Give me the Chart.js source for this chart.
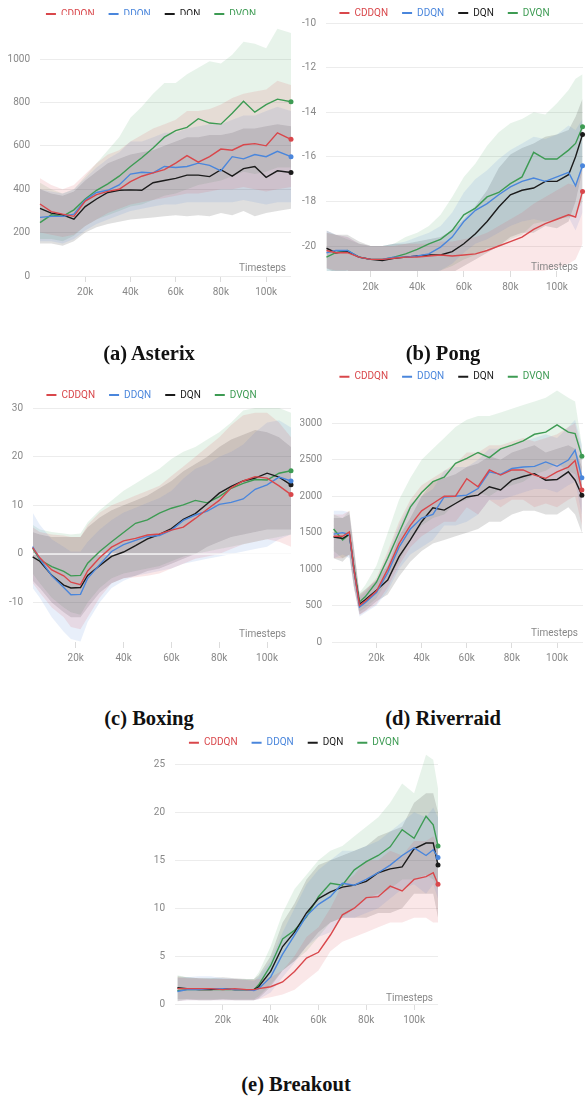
<!DOCTYPE html>
<html>
<head>
<meta charset="utf-8">
<script src="https://cdn.jsdelivr.net/npm/chart.js@4.4.1/dist/chart.umd.min.js"></script>
<style>
  body { margin: 0; background: #fff; width: 587px; height: 1097px; position: relative; overflow: hidden; }
  canvas { position: absolute; }
  .cap { position: absolute; font-family: 'Liberation Serif', serif; font-weight: bold; font-size: 20.5px;
         line-height: 22px; color: #111; transform: translateX(-50%); white-space: nowrap; }
</style>
</head>
<body>
<canvas id="asterix" width="295" height="300" style="left:0;top:0"></canvas>
<canvas id="pong" width="294" height="300" style="left:293px;top:0"></canvas>
<canvas id="boxing" width="295" height="320" style="left:0;top:360px"></canvas>
<canvas id="riverraid" width="294" height="320" style="left:293px;top:360px"></canvas>
<canvas id="breakout" width="310" height="300" style="left:140px;top:730px"></canvas>

<div class="cap" style="left:149px;top:342px">(a) Asterix</div>
<div class="cap" style="left:443px;top:342px">(b) Pong</div>
<div class="cap" style="left:149px;top:707px">(c) Boxing</div>
<div class="cap" style="left:443px;top:707px">(d) Riverraid</div>
<div class="cap" style="left:296px;top:1073px">(e) Breakout</div>

<script>
// --- Series names and x ticks (thousands of timesteps) ---
const seriesNames = ['CDDQN', 'DDQN', 'DQN', 'DVQN'];
const xTicks = [20, 40, 60, 80, 100];

// --- (a) Asterix ---
const asterixSteps = [0, 5, 10, 15, 20, 25, 30, 35, 40, 45, 50, 55, 60, 65, 70, 75, 80, 85, 90, 95, 100, 105, 111];
const asterixYTicks = [0, 200, 400, 600, 800, 1000];
const asterixCDDQN = [332, 297, 285, 275, 345, 375, 390, 400, 435, 460, 475, 490, 520, 555, 525, 550, 585, 580, 605, 610, 600, 660, 630];
const asterixDDQN = [270, 275, 275, 285, 350, 385, 395, 420, 470, 478, 475, 505, 500, 505, 520, 510, 485, 550, 540, 560, 550, 575, 550];
const asterixDQN = [312, 290, 282, 262, 320, 355, 385, 395, 397, 395, 430, 440, 450, 465, 465, 458, 490, 460, 495, 505, 455, 485, 477];
const asterixDVQN = [246, 282, 275, 305, 355, 395, 425, 460, 505, 545, 590, 640, 670, 685, 725, 705, 700, 750, 805, 755, 790, 815, 803];
const asterixCDDQNHi = [450, 420, 400, 420, 470, 520, 560, 580, 620, 650, 680, 700, 720, 760, 760, 770, 790, 820, 840, 850, 860, 900, 880];
const asterixCDDQNLo = [200, 190, 180, 190, 230, 260, 290, 310, 330, 340, 350, 360, 370, 380, 380, 390, 400, 400, 410, 400, 390, 400, 410];
const asterixDDQNHi = [400, 390, 380, 400, 450, 500, 540, 570, 620, 620, 640, 660, 660, 680, 690, 700, 700, 720, 740, 740, 760, 780, 760];
const asterixDDQNLo = [160, 160, 150, 170, 210, 240, 260, 280, 300, 310, 320, 330, 330, 340, 340, 340, 340, 340, 350, 340, 330, 340, 340];
const asterixDQNHi = [400, 380, 370, 390, 440, 480, 520, 540, 560, 570, 580, 600, 620, 640, 640, 650, 650, 660, 680, 680, 690, 700, 690];
const asterixDQNLo = [150, 150, 140, 160, 200, 225, 240, 250, 260, 265, 270, 275, 280, 275, 280, 275, 290, 280, 300, 275, 290, 300, 310];
const asterixDVQNHi = [430, 400, 380, 400, 460, 520, 580, 640, 730, 780, 840, 890, 890, 930, 960, 990, 980, 1020, 1080, 1070, 1050, 1140, 1120];
const asterixDVQNLo = [170, 170, 160, 185, 230, 260, 280, 300, 320, 330, 350, 370, 380, 400, 420, 430, 440, 460, 480, 470, 480, 500, 500];

// --- (b) Pong ---
const pongSteps = [1, 5, 10, 15, 20, 25, 30, 35, 40, 45, 50, 55, 60, 65, 70, 75, 80, 85, 90, 95, 100, 105, 108, 111];
const pongYTicks = [-20, -18, -16, -14, -12, -10];
const pongCDDQN = [-20.2, -20.3, -20.3, -20.5, -20.6, -20.6, -20.55, -20.5, -20.5, -20.45, -20.4, -20.45, -20.4, -20.35, -20.2, -20.0, -19.8, -19.6, -19.25, -19.0, -18.8, -18.6, -18.7, -17.55];
const pongDDQN = [-20.3, -20.2, -20.2, -20.5, -20.6, -20.6, -20.5, -20.5, -20.45, -20.35, -20.05, -19.6, -18.9, -18.4, -18.1, -17.7, -17.35, -17.1, -16.95, -17.1, -16.9, -16.7, -17.3, -16.4];
const pongDQN = [-20.1, -20.3, -20.25, -20.5, -20.6, -20.65, -20.55, -20.5, -20.45, -20.4, -20.4, -20.25, -19.9, -19.45, -18.9, -18.25, -17.7, -17.5, -17.4, -17.1, -17.1, -16.8, -16.0, -15.0];
const pongDVQN = [-20.5, -20.3, -20.2, -20.5, -20.6, -20.6, -20.5, -20.35, -20.15, -19.9, -19.7, -19.3, -18.6, -18.3, -17.8, -17.6, -17.2, -16.9, -15.8, -16.1, -16.1, -15.7, -15.4, -14.65];
const pongCDDQNHi = [-19.4, -19.5, -19.6, -19.9, -20.0, -20.0, -20.0, -19.9, -19.9, -19.9, -19.8, -19.8, -19.7, -19.6, -19.4, -19.1, -18.8, -18.5, -18.1, -17.8, -17.5, -17.2, -17.3, -16.3];
const pongCDDQNLo = [-21.0, -21.1, -21.1, -21.3, -21.4, -21.4, -21.4, -21.4, -21.4, -21.4, -21.4, -21.4, -21.4, -21.4, -21.4, -21.4, -21.4, -21.4, -21.3, -21.1, -21.0, -20.8, -20.6, -19.9];
const pongDDQNHi = [-19.3, -19.5, -19.6, -19.9, -20.0, -20.0, -19.9, -19.8, -19.6, -19.4, -19.1, -18.5, -17.6, -17.0, -16.6, -16.1, -15.7, -15.4, -15.1, -15.2, -15.0, -14.6, -14.8, -14.3];
const pongDDQNLo = [-21.3, -21.2, -21.2, -21.3, -21.3, -21.3, -21.3, -21.3, -21.3, -21.2, -21.1, -20.8, -20.3, -19.9, -19.7, -19.4, -19.1, -18.9, -18.8, -18.9, -18.8, -18.7, -19.3, -18.5];
const pongDQNHi = [-19.3, -19.5, -19.5, -19.8, -20.0, -20.0, -19.9, -19.9, -19.8, -19.7, -19.6, -19.3, -18.8, -18.2, -17.5, -16.5, -15.9, -15.6, -15.4, -15.1, -15.0, -14.8, -14.2, -13.4];
const pongDQNLo = [-21.0, -21.2, -21.1, -21.3, -21.3, -21.3, -21.3, -21.3, -21.3, -21.3, -21.3, -21.2, -20.9, -20.6, -20.3, -20.0, -19.6, -19.4, -19.4, -19.1, -19.2, -18.9, -18.0, -16.6];
const pongDVQNHi = [-19.4, -19.5, -19.7, -19.9, -20.0, -20.0, -19.9, -19.6, -19.4, -19.1, -18.6, -17.8, -16.9, -16.3, -15.5, -14.9, -14.5, -14.3, -14.0, -14.1, -13.6, -13.0, -12.5, -12.3];
const pongDVQNLo = [-21.5, -21.4, -21.3, -21.3, -21.3, -21.3, -21.3, -21.3, -21.3, -21.2, -21.1, -20.9, -20.6, -20.4, -20.1, -20.0, -19.7, -19.5, -19.0, -18.9, -18.8, -18.7, -18.6, -18.0];

// --- (c) Boxing ---
const boxingSteps = [2, 5, 10, 15, 18, 22, 25, 30, 35, 40, 45, 50, 55, 60, 65, 70, 75, 80, 85, 90, 95, 100, 105, 110];
const boxingYTicks = [-10, 0, 10, 20, 30];
const boxingCDDQN = [1.3, -0.8, -3.3, -4.5, -5.8, -6.3, -3.5, -0.8, 1.4, 2.7, 3.2, 3.9, 4.1, 4.9, 5.5, 7.3, 9.2, 11.0, 13.6, 15.0, 15.9, 15.6, 14.0, 12.2];
const boxingDDQN = [1.5, -1.0, -4.5, -6.9, -8.4, -8.3, -5.0, -2.2, 0.5, 1.9, 2.8, 3.6, 3.8, 4.9, 6.9, 8.0, 8.8, 10.2, 10.6, 11.3, 13.3, 14.2, 15.8, 15.0];
const boxingDQN = [-0.6, -1.5, -4.4, -6.4, -7.0, -6.9, -4.4, -2.4, -0.5, 0.4, 1.7, 3.1, 4.0, 5.2, 7.1, 8.3, 10.3, 12.5, 13.9, 15.0, 15.6, 16.6, 15.8, 14.2];
const boxingDVQN = [1.2, -1.2, -2.6, -3.6, -4.5, -4.4, -1.9, 0.5, 2.5, 4.4, 6.3, 7.0, 8.4, 9.4, 10.1, 11.0, 10.5, 11.8, 13.5, 14.5, 15.3, 15.2, 16.6, 17.1];
const boxingCDDQNHi = [5.5, 4.5, 4, 3.8, 3.5, 3.5, 6, 8.5, 10, 11, 12, 13, 14, 16, 18, 20, 22, 24, 26.5, 28.5, 29, 29, 27, 24];
const boxingCDDQNLo = [-6, -8, -11, -13, -15, -15.5, -13, -9, -6, -5, -4.8, -4.5, -4, -3, -2, -1, -0.5, 0, 1, 2, 2.5, 3, 2.5, 1.5];
const boxingDDQNHi = [8.5, 6, 3, 1.5, 0.5, 0.5, 2.5, 5, 7, 8.5, 9.5, 10.5, 11.5, 13, 15.5, 17.5, 18.5, 20, 21, 22.5, 25, 27, 27.5, 26];
const boxingDDQNLo = [-7, -9, -13, -16, -17.5, -18, -14, -10, -7, -5.5, -4.5, -4, -3.5, -3, -2, -1.5, -1, -0.5, 0, 0.5, 1, 1.5, 3, 4];
const boxingDQNHi = [4.5, 4, 3.5, 3.5, 3.5, 3.5, 5.5, 7.5, 9, 10, 11, 12, 13.5, 15, 17, 18.5, 20, 22, 23.5, 24.5, 25.5, 25, 24, 22];
const boxingDQNLo = [-5.5, -7, -10, -12, -13, -13, -11, -8, -6, -5, -4.5, -3.5, -3, -2, -1, 0, 1.5, 2.5, 3.5, 4, 4.5, 5, 5, 5];
const boxingDVQNHi = [6, 5, 4.5, 4.2, 4, 4.2, 6.5, 9, 11, 13, 14.5, 16, 17.5, 19.5, 21, 22, 23.5, 25, 27, 29.5, 30, 30.5, 30, 29];
const boxingDVQNLo = [-4, -6, -9, -11, -12, -12.5, -10, -7, -5, -4, -3.5, -3, -2.5, -1.5, -0.5, 0, 0.5, 1, 1.5, 2, 2.5, 3, 3.5, 4];

// --- (d) Riverraid ---
const riverSteps = [1, 5, 8, 10, 12.5, 15, 20, 25, 30, 35, 40, 45, 50, 55, 60, 65, 70, 75, 80, 85, 90, 95, 100, 105, 108, 111];
const riverYTicks = [0, 500, 1000, 1500, 2000, 2500, 3000];
const riverCDDQN = [1450, 1450, 1510, 1000, 500, 560, 700, 1000, 1350, 1600, 1800, 1900, 2000, 2000, 2240, 2130, 2360, 2290, 2360, 2360, 2290, 2245, 2335, 2400, 2490, 2085];
const riverDDQN = [1480, 1500, 1470, 1000, 480, 540, 680, 950, 1300, 1550, 1700, 1750, 1990, 2000, 2015, 2106, 2335, 2300, 2380, 2400, 2410, 2470, 2410, 2496, 2633, 2253];
const riverDQN = [1440, 1420, 1480, 1000, 520, 580, 710, 850, 1170, 1400, 1650, 1840, 1810, 1900, 1990, 2015, 2130, 2085, 2220, 2270, 2310, 2220, 2230, 2335, 2220, 2015];
const riverDVQN = [1550, 1400, 1480, 1030, 550, 620, 820, 1150, 1500, 1850, 2050, 2200, 2260, 2450, 2520, 2600, 2530, 2650, 2700, 2760, 2850, 2880, 2980, 2880, 2860, 2550];
const riverCDDQNHi = [1750, 1750, 1800, 1300, 640, 700, 880, 1250, 1650, 1950, 2150, 2250, 2350, 2450, 2600, 2600, 2700, 2700, 2750, 2800, 2750, 2800, 2850, 2950, 3000, 2600];
const riverCDDQNLo = [1150, 1150, 1200, 750, 370, 420, 520, 750, 1050, 1300, 1450, 1550, 1650, 1650, 1850, 1750, 1950, 1850, 1950, 1950, 1850, 1900, 1850, 1950, 2000, 1600];
const riverDDQNHi = [1800, 1800, 1780, 1300, 620, 680, 850, 1200, 1600, 1900, 2000, 2100, 2350, 2400, 2400, 2500, 2650, 2650, 2700, 2750, 2800, 2850, 2800, 2950, 3050, 2700];
const riverDDQNLo = [1150, 1200, 1150, 750, 350, 400, 500, 700, 1000, 1200, 1300, 1400, 1600, 1600, 1650, 1750, 1950, 1950, 2000, 2050, 2100, 2100, 2050, 2150, 2200, 1750];
const riverDQNHi = [1700, 1700, 1750, 1250, 660, 720, 850, 1050, 1450, 1700, 2000, 2200, 2250, 2300, 2400, 2450, 2550, 2500, 2600, 2650, 2700, 2600, 2650, 2700, 2650, 2400];
const riverDQNLo = [1150, 1100, 1200, 750, 380, 430, 560, 650, 900, 1100, 1250, 1350, 1400, 1450, 1500, 1550, 1650, 1650, 1750, 1800, 1800, 1750, 1750, 1850, 1750, 1500];
const riverDVQNHi = [1750, 1700, 1800, 1300, 680, 780, 1050, 1500, 1950, 2250, 2500, 2650, 2800, 2950, 3050, 3100, 3100, 3150, 3200, 3250, 3300, 3350, 3450, 3350, 3300, 2700];
const riverDVQNLo = [1250, 1150, 1200, 800, 420, 470, 600, 850, 1100, 1400, 1600, 1700, 1750, 1900, 1950, 2050, 2000, 2100, 2150, 2200, 2300, 2350, 2450, 2350, 2300, 2050];

// --- (e) Breakout ---
const breakSteps = [1, 5, 10, 15, 20, 25, 30, 33, 35, 40, 45, 50, 55, 60, 65, 70, 75, 80, 85, 90, 95, 100, 105, 108, 110];
const breakYTicks = [0, 5, 10, 15, 20, 25];
const breakCDDQN = [1.6, 1.6, 1.6, 1.6, 1.5, 1.6, 1.5, 1.5, 1.6, 1.8, 2.3, 3.4, 4.8, 5.4, 7.2, 9.3, 10.0, 11.1, 11.2, 12.3, 11.8, 13.0, 13.3, 13.7, 12.5];
const breakDDQN = [1.3, 1.5, 1.5, 1.6, 1.6, 1.5, 1.5, 1.4, 1.6, 2.8, 5.2, 7.2, 9.2, 10.4, 11.2, 12.6, 12.4, 13.0, 13.7, 14.5, 15.5, 16.3, 15.5, 16.1, 15.3];
const breakDQN = [1.7, 1.6, 1.5, 1.5, 1.6, 1.5, 1.5, 1.5, 1.8, 3.4, 6.0, 7.5, 9.5, 11.0, 11.7, 12.2, 12.4, 12.8, 13.7, 14.1, 14.3, 16.2, 16.8, 16.8, 14.5];
const breakDVQN = [1.4, 1.5, 1.5, 1.5, 1.5, 1.5, 1.5, 1.5, 2.0, 4.0, 6.8, 7.7, 9.1, 11.2, 12.6, 12.4, 14.0, 14.85, 15.5, 16.4, 18.2, 17.3, 19.6, 18.7, 16.5];
const breakCDDQNHi = [2.8, 2.7, 2.7, 2.6, 2.6, 2.6, 2.5, 2.5, 2.6, 2.8, 3.5, 5, 7, 8, 10, 12.5, 13.5, 15, 15, 16, 15.5, 17, 17, 17.5, 16.5];
const breakCDDQNLo = [0.3, 0.4, 0.4, 0.4, 0.4, 0.4, 0.4, 0.4, 0.5, 0.7, 1, 1.5, 2.5, 3.5, 5.5, 6.5, 7, 7.5, 8, 8.5, 8.5, 9, 9, 8.5, 8.5];
const breakDDQNHi = [2.7, 2.8, 2.9, 2.9, 2.7, 2.6, 2.5, 2.4, 2.8, 4.5, 7.5, 10, 12.5, 14, 15, 16, 16, 16.5, 17, 18, 19, 20, 19.5, 20.5, 19.5];
const breakDDQNLo = [0.3, 0.4, 0.4, 0.4, 0.4, 0.4, 0.4, 0.4, 0.5, 1.2, 2.8, 4.3, 6, 7, 7.5, 9, 9, 9.5, 10, 11, 12, 12.5, 11.5, 12.5, 11];
const breakDQNHi = [2.9, 2.8, 2.7, 2.7, 2.8, 2.7, 2.6, 2.6, 3, 5, 8.5, 10.5, 13, 14.5, 15, 15.5, 16, 16.5, 17.5, 18, 18.5, 21, 22, 22, 20];
const breakDQNLo = [0.5, 0.5, 0.4, 0.4, 0.5, 0.4, 0.4, 0.4, 0.6, 1.8, 3.5, 4.5, 6, 7.5, 8.5, 9, 9, 9, 9.5, 9.5, 10, 11.5, 11.5, 11.5, 9];
const breakDVQNHi = [3, 2.8, 2.7, 2.7, 2.6, 2.6, 2.6, 2.6, 3.3, 6, 9.5, 12, 13.5, 15, 16, 16.5, 17.5, 18.5, 19.5, 21, 23, 22, 26, 25.5, 22.5];
const breakDVQNLo = [0.3, 0.5, 0.5, 0.5, 0.5, 0.5, 0.5, 0.5, 0.8, 2, 3.5, 4.5, 5.5, 7, 8.5, 9, 10, 11, 11.5, 12, 13, 13, 13.5, 13, 12];

// --- Styles ---
const lineColors = { CDDQN: '#d9474b', DDQN: '#4a86dc', DQN: '#1b1b1b', DVQN: '#3d9b53' };
const bandColors = {
    CDDQN: 'rgba(217,71,75,0.13)',
    DDQN: 'rgba(74,134,220,0.13)',
    DQN: 'rgba(30,30,30,0.14)',
    DVQN: 'rgba(61,155,83,0.12)'
};

Chart.defaults.font.family = 'Roboto, "Noto Sans", sans-serif';
Chart.defaults.font.size = 10;

// legend: fixed box height, text row placed at a given y and nudged right
const legendPlacer = {
    id: 'legendPlacer',
    afterInit(chart, args, opts) {
        const lg = chart.legend;
        const fit = lg.fit;
        lg.fit = function () { fit.call(this); this.height = opts.height; };
    },
    afterLayout(chart, args, opts) {
        const lg = chart.legend;
        const dy = opts.center - 14 - 5 - lg.top;
        lg.top += dy;
        lg.bottom += dy;
        lg.left += 5;
        lg.right += 5;
    }
};

// white zero line over the bands, and the "Timesteps" tag inside the plot
const extras = {
    id: 'extras',
    afterDatasetDraw(chart, args, opts) {
        if (!chart.data.datasets[args.index].zeroLine) return;
        const y = chart.scales.y;
        if (y.min >= 0 || y.max <= 0) return;
        const py = y.getPixelForValue(0);
        const ctx = chart.ctx;
        ctx.save();
        ctx.strokeStyle = 'rgba(255,255,255,0.9)';
        ctx.lineWidth = 1.5;
        ctx.beginPath();
        ctx.moveTo(chart.chartArea.left, py);
        ctx.lineTo(chart.chartArea.right, py);
        ctx.stroke();
        ctx.restore();
    },
    afterDraw(chart, args, opts) {
        const ctx = chart.ctx;
        const a = chart.chartArea;
        ctx.save();
        ctx.font = '10px Roboto, "Noto Sans", sans-serif';
        ctx.fillStyle = '#888';
        ctx.textAlign = 'right';
        ctx.textBaseline = 'middle';
        ctx.fillText('Timesteps', a.right - 5, a.bottom - opts.stamp);
        ctx.restore();
    }
};

function makePanel(p) {
    const datasets = [];
    seriesNames.forEach((name, k) => {
        const [, hi, lo] = p.series[name];
        datasets.push({
            data: p.steps.map((s, i) => ({ x: s, y: hi[i] })),
            borderWidth: 0, pointRadius: 0, fill: '+1',
            backgroundColor: bandColors[name], order: 10, zeroLine: k === 0
        });
        datasets.push({
            data: p.steps.map((s, i) => ({ x: s, y: lo[i] })),
            borderWidth: 0, pointRadius: 0, fill: false, order: 10
        });
    });
    seriesNames.forEach(name => {
        const mean = p.series[name][0];
        const last = mean.length - 1;
        datasets.push({
            label: name,
            data: p.steps.map((s, i) => ({ x: s, y: mean[i] })),
            borderColor: lineColors[name],
            backgroundColor: lineColors[name],
            borderWidth: 1.4,
            fill: false,
            tension: 0,
            pointRadius: c => (c.dataIndex === last ? 2.5 : 0),
            pointBorderWidth: 0,
            pointBackgroundColor: lineColors[name],
            clip: 4,
            order: 0
        });
    });

    new Chart(document.getElementById(p.id), {
        type: 'line',
        data: { datasets },
        plugins: [legendPlacer, extras],
        options: {
            responsive: false,
            animation: false,
            events: [],
            layout: { padding: { top: 0, left: 0, right: p.padR, bottom: 0 } },
            plugins: {
                tooltip: { enabled: false },
                legendPlacer: { height: p.legH, center: p.legC },
                extras: { stamp: p.stamp },
                legend: {
                    position: 'top',
                    labels: {
                        boxWidth: 10,
                        boxHeight: 2,
                        padding: 14,
                        font: { size: 10 },
                        generateLabels: () => seriesNames.map(n => ({
                            text: n, fillStyle: lineColors[n], strokeStyle: lineColors[n],
                            lineWidth: 0, fontColor: lineColors[n], hidden: false
                        }))
                    }
                }
            },
            scales: {
                x: {
                    type: 'linear',
                    min: p.xMin,
                    max: p.xMax,
                    afterBuildTicks: s => { s.ticks = xTicks.map(v => ({ value: v })); },
                    afterFit: s => { s.height = p.xH; },
                    grid: { drawOnChartArea: false, drawTicks: true, tickLength: 6, color: '#dcdcdc' },
                    border: { display: false },
                    ticks: { color: '#888', padding: 4, maxRotation: 0, autoSkip: false, callback: v => v + 'k' }
                },
                y: {
                    min: p.yMin,
                    max: p.yMax,
                    afterBuildTicks: s => { s.ticks = p.yTicks.map(v => ({ value: v })); },
                    afterFit: s => { s.width = p.yW; },
                    grid: { color: '#ececec', drawTicks: false },
                    border: { display: false },
                    ticks: { color: '#888', padding: 10, callback: v => String(v) }
                }
            }
        }
    });
}

makePanel({
    id: 'asterix', steps: asterixSteps, yTicks: asterixYTicks,
    xMin: 0, xMax: 111, yMin: 0, yMax: 1180,
    yW: 40, xH: 24, padR: 3, legH: 20, legC: 14, stamp: 8,
    series: {
        CDDQN: [asterixCDDQN, asterixCDDQNHi, asterixCDDQNLo],
        DDQN: [asterixDDQN, asterixDDQNHi, asterixDDQNLo],
        DQN: [asterixDQN, asterixDQNHi, asterixDQNLo],
        DVQN: [asterixDVQN, asterixDVQNHi, asterixDVQNLo]
    }
});
makePanel({
    id: 'pong', steps: pongSteps, yTicks: pongYTicks,
    xMin: 0.8, xMax: 111.2, yMin: -21.12, yMax: -10,
    yW: 33, xH: 29, padR: 1, legH: 23, legC: 13, stamp: 4,
    series: {
        CDDQN: [pongCDDQN, pongCDDQNHi, pongCDDQNLo],
        DDQN: [pongDDQN, pongDDQNHi, pongDDQNLo],
        DQN: [pongDQN, pongDQNHi, pongDQNLo],
        DVQN: [pongDVQN, pongDVQNHi, pongDVQNLo]
    }
});
makePanel({
    id: 'boxing', steps: boxingSteps, yTicks: boxingYTicks,
    xMin: 2.15, xMax: 110, yMin: -18.1, yMax: 30,
    yW: 33, xH: 38, padR: 2, legH: 48, legC: 35, stamp: 8,
    series: {
        CDDQN: [boxingCDDQN, boxingCDDQNHi, boxingCDDQNLo],
        DDQN: [boxingDDQN, boxingDDQNHi, boxingDDQNLo],
        DQN: [boxingDQN, boxingDQNHi, boxingDQNLo],
        DVQN: [boxingDVQN, boxingDVQNHi, boxingDVQNLo]
    }
});
makePanel({
    id: 'riverraid', steps: riverSteps, yTicks: riverYTicks,
    xMin: 0.3, xMax: 111.5, yMin: 0, yMax: 3526,
    yW: 39, xH: 38, padR: 1, legH: 25, legC: 16.7, stamp: 8.5,
    series: {
        CDDQN: [riverCDDQN, riverCDDQNHi, riverCDDQNLo],
        DDQN: [riverDDQN, riverDDQNHi, riverDDQNLo],
        DQN: [riverDQN, riverDQNHi, riverDQNLo],
        DVQN: [riverDVQN, riverDVQNHi, riverDVQNLo]
    }
});
makePanel({
    id: 'breakout', steps: breakSteps, yTicks: breakYTicks,
    xMin: 0, xMax: 110, yMin: 0, yMax: 26.3,
    yW: 35, xH: 26, padR: 12, legH: 22, legC: 12.7, stamp: 6,
    series: {
        CDDQN: [breakCDDQN, breakCDDQNHi, breakCDDQNLo],
        DDQN: [breakDDQN, breakDDQNHi, breakDDQNLo],
        DQN: [breakDQN, breakDQNHi, breakDQNLo],
        DVQN: [breakDVQN, breakDVQNHi, breakDVQNLo]
    }
});
</script>
</body>
</html>
